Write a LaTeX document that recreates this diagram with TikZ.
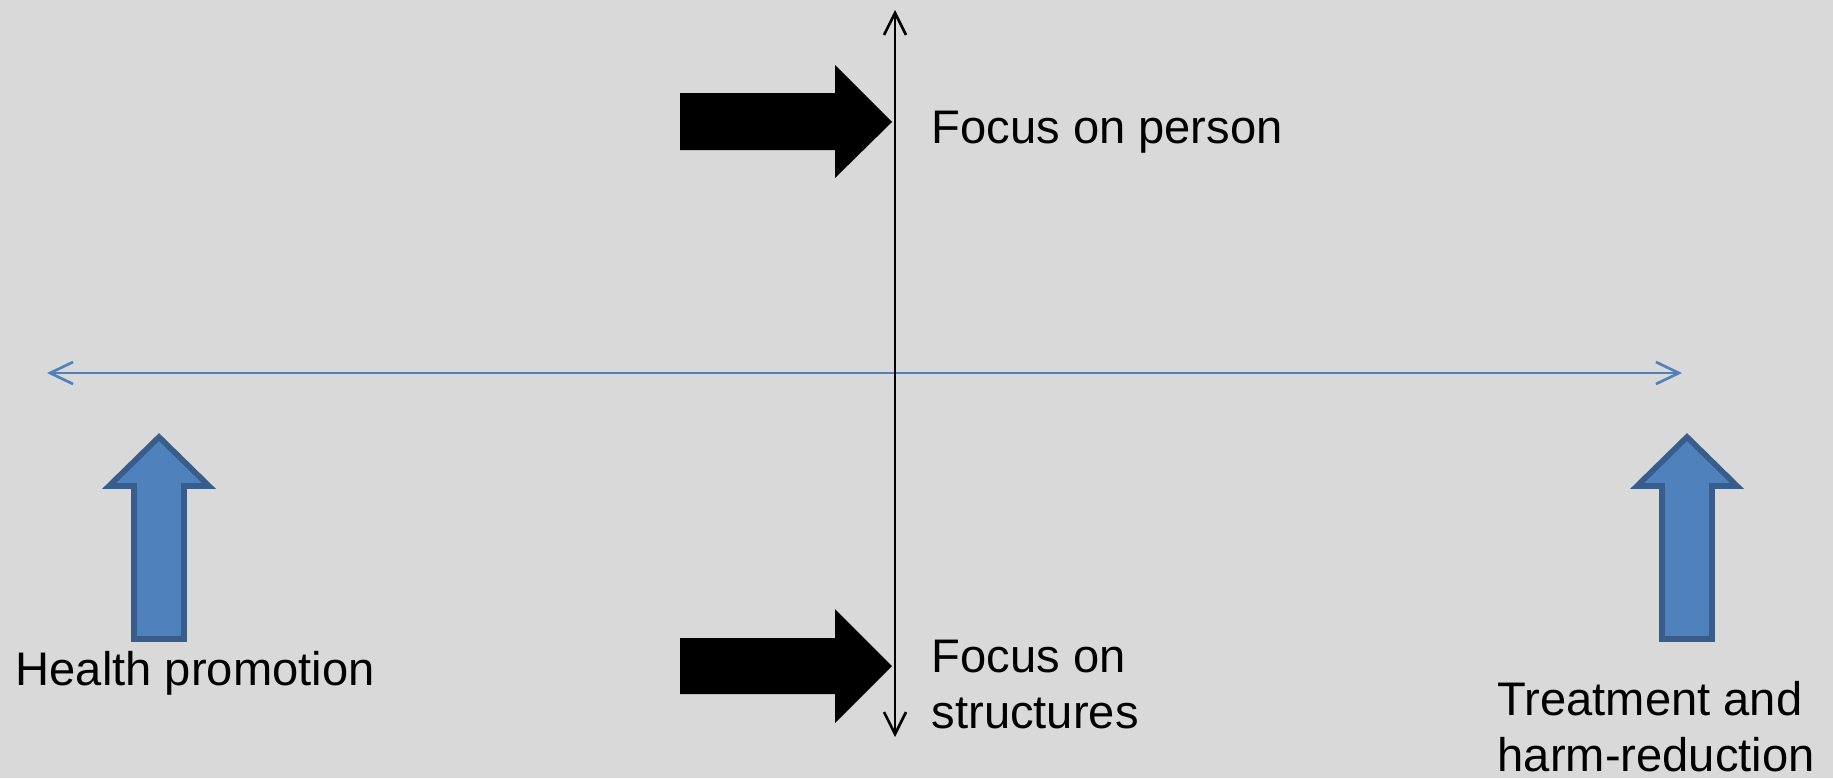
\documentclass[tikz,border=0pt]{standalone}
\usepackage{fontspec}
\setmainfont{Liberation Sans}
\usetikzlibrary{arrows.meta}
\definecolor{bg}{HTML}{D9D9D9}
\definecolor{blueline}{HTML}{4F81BD}
\definecolor{bluefill}{HTML}{4F81BD}
\definecolor{blueedge}{HTML}{385D8A}
\tikzset{
  lbl/.style={anchor=base west, inner sep=0pt, font=\fontsize{13.4}{15.8}\selectfont, align=left},
  axisv/.style={draw=black, line width=0.75pt, {Straight Barb[length=0.22cm,width=0.22cm]}-{Straight Barb[length=0.22cm,width=0.22cm]}},
  axish/.style={draw=blueline, line width=0.75pt, {Straight Barb[length=0.23cm,width=0.22cm]}-{Straight Barb[length=0.23cm,width=0.22cm]}},
  blackarrow/.style={fill=black, draw=none},
  bluearrow/.style={fill=bluefill, draw=blueedge, line width=1.6pt, line join=miter},
}
\begin{document}
\begin{tikzpicture}[x=0.01cm,y=-0.01cm]
\fill[bg] (0,0) rectangle (1833,778);
\useasboundingbox (0,0) rectangle (1833,778);

% axes
\coordinate (vtop) at (895,10);
\coordinate (vbot) at (895,737);
\coordinate (hleft) at (47,373);
\coordinate (hright) at (1682,373);
\draw[axish] (hleft) -- (hright);
\draw[axisv] (vtop) -- (vbot);

% black block arrows
\path[blackarrow] (680,93) -- (835,93) -- (835,65) -- (892,122) -- (835,178) -- (835,150) -- (680,150) -- cycle;
\path[blackarrow] (680,638) -- (835,638) -- (835,609) -- (892,666) -- (835,723) -- (835,694) -- (680,694) -- cycle;

% blue block arrows
\path[bluearrow] (159,437) -- (209,486) -- (184,486) -- (184,639) -- (134,639) -- (134,486) -- (109,486) -- cycle;
\path[bluearrow] (1687,437) -- (1737,486) -- (1712,486) -- (1712,639) -- (1662,639) -- (1662,486) -- (1637,486) -- cycle;

% labels (base anchor = baseline of last line)
\node[lbl] (person) at (931,143) {Focus on person};
\node[lbl] (struct) at (931,728) {Focus on\\structures};
\node[lbl] (health) at (15,685) {Health promotion};
\node[lbl] (treat) at (1497,771) {Treatment and\\harm-reduction};
\end{tikzpicture}
\end{document}
